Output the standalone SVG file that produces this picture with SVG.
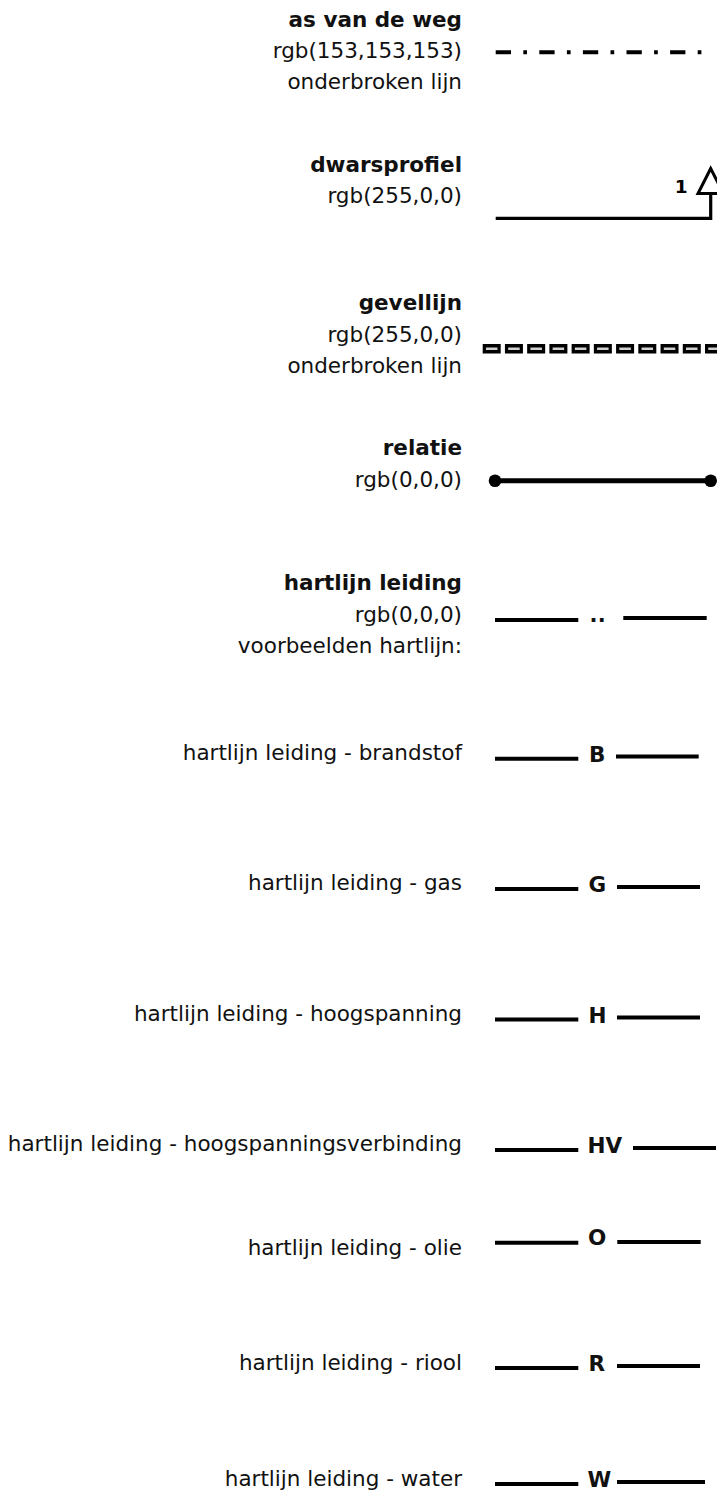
<svg xmlns="http://www.w3.org/2000/svg" width="717" height="1493" viewBox="0 0 717 1493">
<style>
.t{font-family:"DejaVu Sans",Verdana,sans-serif;font-size:21.5px;fill:#111;text-anchor:end}
.b{font-weight:bold}
.ln{stroke:#000;stroke-width:4;fill:none}
.lt{font-family:"DejaVu Sans",Verdana,sans-serif;font-size:21.5px;font-weight:bold;fill:#111}
</style>
<rect width="717" height="1493" fill="#fff"/>
<g id="as-van-de-weg">
<text class="t b" x="462" y="26.5">as van de weg</text>
<text class="t" x="462" y="57.5">rgb(153,153,153)</text>
<text class="t" x="462" y="88.5">onderbroken lijn</text>
</g>
<g id="dwarsprofiel">
<text class="t b" x="462" y="171.7">dwarsprofiel</text>
<text class="t" x="462" y="203.3">rgb(255,0,0)</text>
</g>
<g id="gevellijn">
<text class="t b" x="462" y="310">gevellijn</text>
<text class="t" x="462" y="341.7">rgb(255,0,0)</text>
<text class="t" x="462" y="373.3">onderbroken lijn</text>
</g>
<g id="relatie">
<text class="t b" x="462" y="455">relatie</text>
<text class="t" x="462" y="486.7">rgb(0,0,0)</text>
</g>
<g id="hartlijn-leiding">
<text class="t b" x="462" y="590">hartlijn leiding</text>
<text class="t" x="462" y="621.7">rgb(0,0,0)</text>
<text class="t" x="462" y="653.3">voorbeelden hartlijn:</text>
</g>
<g id="brandstof"><text class="t" x="462" y="760">hartlijn leiding - brandstof</text></g>
<g id="gas"><text class="t" x="462" y="890">hartlijn leiding - gas</text></g>
<g id="hoogspanning"><text class="t" x="462" y="1021">hartlijn leiding - hoogspanning</text></g>
<g id="hoogspanningsverbinding"><text class="t" x="462" y="1151">hartlijn leiding - hoogspanningsverbinding</text></g>
<g id="olie"><text class="t" x="462" y="1255">hartlijn leiding - olie</text></g>
<g id="riool"><text class="t" x="462" y="1370">hartlijn leiding - riool</text></g>
<g id="water"><text class="t" x="462" y="1486">hartlijn leiding - water</text></g>
<g id="connectors">
<line x1="495.7" y1="52.3" x2="712" y2="52.3" stroke="#000" stroke-width="4" stroke-dasharray="15.3 12.3 3.7 12.3"/>
<polyline points="495.7,218.3 710.7,218.3 710.7,193.5" class="ln" style="stroke-width:3.2"/>
<polygon points="710.7,168.5 698,193.5 723.4,193.5" fill="#fff" stroke="#000" stroke-width="3"/>
<text x="681.3" y="193" text-anchor="middle" style="font-family:'DejaVu Sans',Verdana,sans-serif;font-size:18.5px;font-weight:bold;fill:#000">1</text>
<line x1="482.7" y1="348.8" x2="717" y2="348.8" stroke="#000" stroke-width="9.5" stroke-dasharray="18 4.23"/>
<line x1="485.95" y1="348.8" x2="717" y2="348.8" stroke="#d0d0d0" stroke-width="2.6" stroke-dasharray="11.5 10.73"/>
<line x1="495" y1="480.7" x2="710.7" y2="480.7" stroke="#000" stroke-width="5"/>
<circle cx="495" cy="480.7" r="6.3" fill="#000"/>
<circle cx="710.7" cy="480.7" r="6.3" fill="#000"/>
<line x1="495" y1="620" x2="578.3" y2="620" class="ln"/>
<text x="589.4" y="622" style="font-family:'DejaVu Sans',Verdana,sans-serif;font-size:21px;font-weight:bold;fill:#111;letter-spacing:0.5px">..</text>
<line x1="623.3" y1="618" x2="706.7" y2="618" class="ln"/>
<line x1="495" y1="758.7" x2="578.3" y2="758.7" class="ln"/>
<text class="lt" x="589" y="762">B</text>
<line x1="616" y1="756.5" x2="698.7" y2="756.5" class="ln"/>
<line x1="495" y1="889" x2="578.3" y2="889" class="ln"/>
<text class="lt" x="588.5" y="892.3">G</text>
<line x1="617" y1="887" x2="700" y2="887" class="ln"/>
<line x1="495" y1="1019.5" x2="578.3" y2="1019.5" class="ln"/>
<text class="lt" x="588.5" y="1022.8">H</text>
<line x1="617" y1="1017.5" x2="700" y2="1017.5" class="ln"/>
<line x1="495" y1="1150" x2="578.3" y2="1150" class="ln"/>
<text class="lt" x="587.5" y="1153.3">HV</text>
<line x1="633" y1="1148" x2="716" y2="1148" class="ln"/>
<line x1="495" y1="1242.7" x2="578.3" y2="1242.7" class="ln"/>
<text class="lt" x="588" y="1245">O</text>
<line x1="617.3" y1="1242" x2="700.7" y2="1242" class="ln"/>
<line x1="495" y1="1368" x2="578.3" y2="1368" class="ln"/>
<text class="lt" x="588.5" y="1371.3">R</text>
<line x1="617" y1="1366" x2="700" y2="1366" class="ln"/>
<line x1="495" y1="1484" x2="578.3" y2="1484" class="ln"/>
<text class="lt" x="587.5" y="1487.3">W</text>
<line x1="617" y1="1482" x2="705" y2="1482" class="ln"/>
</g>
</svg>
